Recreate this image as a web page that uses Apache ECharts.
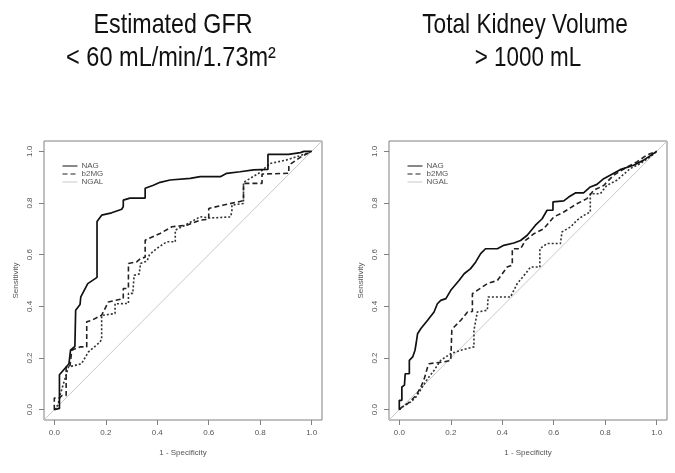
<!DOCTYPE html>
<html><head><meta charset="utf-8">
<script src="https://cdn.jsdelivr.net/npm/echarts@6/dist/echarts.min.js"></script>
<style>html,body{margin:0;padding:0;background:#fff}#c{width:675px;height:473px}</style>
</head><body><div id="c"></div>
<script>
const tickValues = [0, 0.2, 0.4, 0.6, 0.8, 1.0];
const legendNames = ['NAG', 'b2MG', 'NGAL'];
const leftTitle = ['Estimated GFR', '< 60 mL/min/1.73m\u00B2'];
const rightTitle = ['Total Kidney Volume', '> 1000 mL'];
const xAxisName = '1 - Specificity';
const yAxisName = 'Sensitivity';
const diagonal = [[-0.04, -0.04], [1.04, 1.04]];

const gfrNAG = [[0,0],[0,0.005],[0.02,0.005],[0.02,0.135],[0.057,0.178],[0.063,0.178],[0.063,0.23],[0.08,0.245],[0.083,0.245],[0.083,0.385],[0.1,0.407],[0.103,0.437],[0.13,0.488],[0.166,0.512],[0.166,0.728],[0.184,0.753],[0.223,0.762],[0.262,0.776],[0.268,0.786],[0.268,0.811],[0.294,0.819],[0.353,0.819],[0.353,0.857],[0.385,0.869],[0.411,0.88],[0.45,0.889],[0.528,0.895],[0.567,0.902],[0.645,0.902],[0.67,0.915],[0.722,0.921],[0.774,0.928],[0.83,0.93],[0.83,0.988],[0.91,0.988],[0.915,0.995],[0.956,0.995],[0.97,1],[1,1]];
const gfrB2MG = [[0,0],[0,0.045],[0.02,0.045],[0.03,0.055],[0.046,0.055],[0.046,0.165],[0.061,0.17],[0.068,0.23],[0.1,0.243],[0.126,0.243],[0.126,0.34],[0.146,0.346],[0.184,0.366],[0.21,0.417],[0.268,0.43],[0.268,0.469],[0.288,0.469],[0.288,0.566],[0.32,0.572],[0.335,0.585],[0.353,0.59],[0.353,0.656],[0.411,0.682],[0.457,0.708],[0.515,0.714],[0.567,0.734],[0.6,0.737],[0.6,0.779],[0.658,0.792],[0.735,0.809],[0.735,0.876],[0.807,0.876],[0.807,0.912],[0.911,0.915],[0.911,0.946],[0.96,0.98],[1,1]];
const gfrNGAL = [[0,0],[0.015,0.02],[0.022,0.055],[0.055,0.165],[0.106,0.178],[0.132,0.223],[0.178,0.262],[0.184,0.275],[0.184,0.365],[0.236,0.372],[0.236,0.41],[0.288,0.411],[0.288,0.45],[0.305,0.45],[0.31,0.52],[0.33,0.525],[0.335,0.566],[0.36,0.575],[0.37,0.6],[0.398,0.624],[0.437,0.65],[0.47,0.65],[0.47,0.695],[0.508,0.714],[0.567,0.747],[0.607,0.742],[0.684,0.746],[0.69,0.765],[0.69,0.792],[0.735,0.798],[0.735,0.88],[0.794,0.915],[0.839,0.953],[0.9,0.966],[0.96,0.985],[1,1]];

const tkvNAG = [[0,0],[0,0.036],[0.01,0.036],[0.01,0.088],[0.02,0.095],[0.023,0.139],[0.039,0.139],[0.039,0.191],[0.052,0.204],[0.061,0.23],[0.066,0.26],[0.071,0.294],[0.084,0.314],[0.11,0.346],[0.135,0.378],[0.148,0.41],[0.161,0.423],[0.181,0.43],[0.2,0.462],[0.232,0.5],[0.252,0.526],[0.277,0.546],[0.297,0.572],[0.316,0.604],[0.335,0.623],[0.381,0.623],[0.406,0.636],[0.445,0.645],[0.471,0.655],[0.497,0.675],[0.529,0.714],[0.555,0.739],[0.574,0.772],[0.597,0.772],[0.597,0.804],[0.639,0.808],[0.658,0.823],[0.684,0.839],[0.716,0.839],[0.742,0.862],[0.768,0.872],[0.794,0.894],[0.819,0.907],[0.858,0.929],[0.91,0.946],[0.948,0.965],[1,1]];
const tkvB2MG = [[0,0],[0.01,0.01],[0.032,0.023],[0.065,0.055],[0.084,0.088],[0.097,0.12],[0.11,0.165],[0.116,0.178],[0.174,0.185],[0.2,0.191],[0.204,0.191],[0.204,0.307],[0.213,0.32],[0.239,0.346],[0.265,0.378],[0.284,0.38],[0.284,0.449],[0.303,0.462],[0.342,0.488],[0.381,0.5],[0.419,0.552],[0.439,0.56],[0.439,0.623],[0.471,0.623],[0.49,0.655],[0.523,0.681],[0.561,0.7],[0.6,0.746],[0.639,0.765],[0.69,0.797],[0.729,0.817],[0.755,0.849],[0.794,0.868],[0.832,0.907],[0.884,0.939],[0.923,0.959],[0.961,0.985],[1,1]];
const tkvNGAL = [[0,0],[0.02,0.017],[0.045,0.03],[0.065,0.049],[0.09,0.088],[0.11,0.12],[0.135,0.152],[0.161,0.191],[0.2,0.217],[0.239,0.23],[0.29,0.243],[0.29,0.307],[0.303,0.378],[0.342,0.385],[0.345,0.436],[0.432,0.436],[0.458,0.488],[0.49,0.526],[0.51,0.552],[0.546,0.552],[0.546,0.623],[0.574,0.643],[0.626,0.643],[0.632,0.688],[0.665,0.707],[0.69,0.733],[0.716,0.752],[0.742,0.765],[0.742,0.836],[0.781,0.836],[0.806,0.868],[0.845,0.888],[0.897,0.933],[0.935,0.952],[0.974,0.978],[1,1]];

const chart = echarts.init(document.getElementById('c'), null, {renderer: 'canvas'});
const smallFont = '"Liberation Sans", Arial, sans-serif';
const titleFont = '"Liberation Sans", Arial, sans-serif';
const axisGray = '#808080';
const textGray = '#555';

function makeX(gi) {
  return {
    gridIndex: gi, type: 'value', min: -0.04, max: 1.04,
    splitLine: {show: false}, axisLine: {show: false, onZero: false},
    axisTick: {show: true, inside: false, length: 5, customValues: tickValues, lineStyle: {color: axisGray}},
    axisLabel: {customValues: tickValues, formatter: v => v.toFixed(1), fontSize: 8, fontFamily: smallFont, color: textGray, margin: 9},
    name: xAxisName, nameLocation: 'middle', nameGap: 29,
    nameTextStyle: {fontSize: 8, fontFamily: smallFont, color: textGray}
  };
}
function makeY(gi) {
  return {
    gridIndex: gi, type: 'value', min: -0.04, max: 1.04,
    splitLine: {show: false}, axisLine: {show: false, onZero: false},
    axisTick: {show: true, inside: false, length: 5, customValues: tickValues, lineStyle: {color: axisGray}},
    axisLabel: {customValues: tickValues, formatter: v => v.toFixed(1), rotate: 90, fontSize: 8, fontFamily: smallFont, color: textGray, margin: 10},
    name: yAxisName, nameLocation: 'middle', nameGap: 24,
    nameTextStyle: {fontSize: 8, fontFamily: smallFont, color: textGray}
  };
}
function curves(gi, nag, b2, ngal) {
  return [
    {type: 'line', name: 'ref', xAxisIndex: gi, yAxisIndex: gi, data: diagonal, symbol: 'none', silent: true, z: 1,
     color: '#c8c8c8', lineStyle: {color: '#c8c8c8', width: 1}},
    {type: 'line', name: 'NGAL', xAxisIndex: gi, yAxisIndex: gi, data: ngal, symbol: 'none', z: 2,
     color: '#333', lineStyle: {color: '#333', width: 1.6, type: [2, 2]}},
    {type: 'line', name: 'b2MG', xAxisIndex: gi, yAxisIndex: gi, data: b2, symbol: 'none', z: 3,
     color: '#222', lineStyle: {color: '#222', width: 1.6, type: [5, 3]}},
    {type: 'line', name: 'NAG', xAxisIndex: gi, yAxisIndex: gi, data: nag, symbol: 'none', z: 4,
     color: '#111', lineStyle: {color: '#111', width: 1.7}}
  ];
}
function makeLegend(left) {
  return {
    left: left, top: 157, orient: 'vertical', itemWidth: 15, itemHeight: 10, itemGap: 0,
    selectedMode: false,
    itemStyle: {opacity: 0},
    textStyle: {fontSize: 8, fontFamily: smallFont, color: textGray, padding: [0, 0, 0, -1]},
    data: legendNames.map(n => n === 'NGAL'
      ? {name: n, itemStyle: {opacity: 0}, lineStyle: {color: '#c8c8c8', type: 'solid', width: 1}}
      : {name: n, itemStyle: {opacity: 0}, lineStyle: {width: 1}})
  };
}
function titleText(x, y, txt, sx) {
  return {type: 'text', x: x, y: y, scaleX: sx,
    style: {text: txt, fontSize: 28, fontFamily: titleFont, fill: '#111', align: 'center', verticalAlign: 'middle'}};
}

chart.setOption({
  animation: false,
  backgroundColor: '#fff',
  grid: [
    {left: 44, top: 141, width: 278, height: 279, show: true, borderColor: axisGray, borderWidth: 1, containLabel: false},
    {left: 389, top: 141, width: 278, height: 279, show: true, borderColor: axisGray, borderWidth: 1, containLabel: false}
  ],
  xAxis: [makeX(0), makeX(1)],
  yAxis: [makeY(0), makeY(1)],
  legend: [makeLegend(57), makeLegend(402)],
  series: [].concat(curves(0, gfrNAG, gfrB2MG, gfrNGAL), curves(1, tkvNAG, tkvB2MG, tkvNGAL)),
  graphic: [
    titleText(173, 25, leftTitle[0], 0.83), titleText(171, 58, leftTitle[1], 0.84),
    titleText(525, 25, rightTitle[0], 0.81), titleText(528, 58, rightTitle[1], 0.80)
  ]
});
</script></body></html>
